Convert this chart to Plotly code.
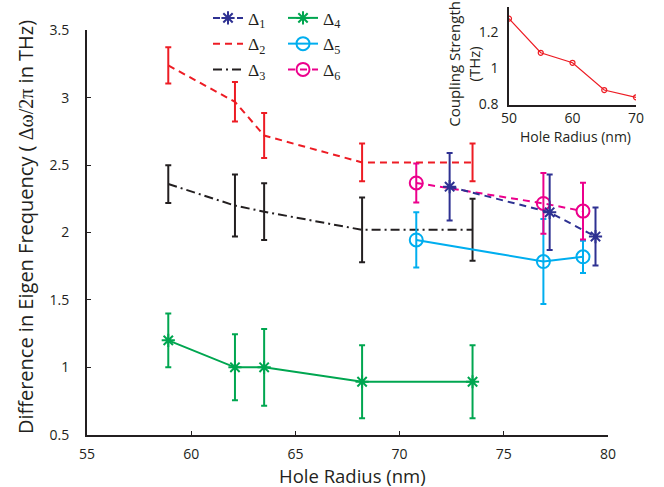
import plotly.graph_objects as go

# ---------------- data ----------------
x_main = [58.9, 62.1, 63.5, 68.2, 73.5]
x_d1 = [72.4, 77.2, 79.4]
x_d56 = [70.8, 76.9, 78.8]

d1 = [2.34, 2.15, 1.97]
e1 = [0.25, 0.28, 0.215]
d2 = [3.24, 2.97, 2.72, 2.52, 2.52]
e2 = [0.135, 0.147, 0.167, 0.14, 0.14]
d3 = [2.36, 2.20, 2.155, 2.02, 2.02]
e3 = [0.14, 0.23, 0.21, 0.24, 0.23]
d4 = [1.20, 1.00, 1.00, 0.893, 0.893]
e4 = [0.20, 0.245, 0.285, 0.27, 0.27]
d5 = [1.945, 1.785, 1.82]
e5 = [0.205, 0.315, 0.12]
d6 = [2.368, 2.216, 2.159]
e6 = [0.145, 0.225, 0.21]

inset_x = [50, 55, 60, 65, 70]
inset_y = [1.273, 1.085, 1.03, 0.88, 0.84]

y_ticks = [0.5, 1, 1.5, 2, 2.5, 3, 3.5]
y_ticktext = ["0.5", "1", "1.5", "2", "2.5", "3", "3.5"]
x_ticks = [55, 60, 65, 70, 75, 80]
inset_xticks = [50, 60, 70]
inset_yticks = [0.8, 1.0, 1.2]
inset_yticktext = ["0.8", "1", "1.2"]

C1, C2, C3 = "#2E3192", "#ED1C24", "#231F20"
C4, C5, C6 = "#00A650", "#00AEEF", "#EC008C"

W, H = 664, 487
SANS = "Open Sans"
SERIF = "Liberation Serif"

fig = go.Figure()


def add(x, y, e, color, dash, symbol, name, legend, msize, rank):
    fig.add_trace(go.Scatter(
        x=x, y=y, name=name, legend=legend, legendgroup=name,
        legendrank=rank,
        mode="lines" if symbol is None else "lines+markers",
        line=dict(color=color, width=2, dash=dash),
        marker=dict(symbol=symbol or "circle", size=msize, color=color,
                    line=dict(color=color, width=2)),
        error_y=dict(type="data", array=e, visible=True,
                     color=color, thickness=2, width=3),
        xaxis="x", yaxis="y",
    ))


add(x_main, d3, e3, C3, "9px,4px,2px,4px", None, "Δ<sub>3</sub>", "legend", 6, 3)
add(x_main, d2, e2, C2, "7px,5px", None, "Δ<sub>2</sub>", "legend", 6, 2)
add(x_main, d4, e4, C4, "solid", "asterisk-open", "Δ<sub>4</sub>", "legend2", 11, 4)
add(x_d56, d5, e5, C5, "solid", "circle-open", "Δ<sub>5</sub>", "legend2", 13, 5)
add(x_d56, d6, e6, C6, "7px,5px", "circle-open", "Δ<sub>6</sub>", "legend2", 13, 6)
add(x_d1, d1, e1, C1, "7px,5px", "asterisk-open", "Δ<sub>1</sub>", "legend", 11, 1)

# inset
fig.add_trace(go.Scatter(
    x=inset_x, y=inset_y, mode="lines+markers", showlegend=False,
    line=dict(color="#ED1C24", width=1.2),
    marker=dict(symbol="circle-open", size=5, color="#ED1C24",
                line=dict(color="#ED1C24", width=1.2)),
    xaxis="x2", yaxis="y2",
))


def px_x(p):
    return p / W


def px_y(p):
    return 1 - p / H


fig.update_layout(
    width=W, height=H,
    margin=dict(l=0, r=0, t=0, b=0),
    paper_bgcolor="white", plot_bgcolor="white",
    font=dict(family=SANS, color=C3, size=14),
    xaxis=dict(
        domain=[px_x(87), px_x(608)], range=[55, 80],
        tickvals=x_ticks, ticks="inside", ticklen=4, tickwidth=1,
        tickcolor=C3, showline=True, linecolor=C3, linewidth=2,
        showgrid=False, zeroline=False, anchor="y",
        tickfont=dict(size=14), ticklabelstandoff=5, automargin=False,
    ),
    yaxis=dict(
        domain=[px_y(434.5), px_y(28.5)], range=[0.5, 3.5],
        tickvals=y_ticks, ticktext=y_ticktext, ticks="inside", ticklen=4,
        tickwidth=1, tickcolor=C3, showline=True, linecolor=C3, linewidth=2,
        showgrid=False, zeroline=False, anchor="x",
        tickfont=dict(size=14), ticklabelstandoff=13, automargin=False,
    ),
    xaxis2=dict(
        domain=[px_x(509), px_x(636)], range=[50, 70],
        tickvals=inset_xticks, ticks="", showline=True, linecolor=C3,
        linewidth=1.5, showgrid=False, zeroline=False, anchor="y2",
        tickfont=dict(size=14), ticklabelstandoff=0, automargin=False,
    ),
    yaxis2=dict(
        domain=[px_y(103), px_y(5)], range=[0.8, 1.337],
        tickvals=inset_yticks, ticktext=inset_yticktext, ticks="",
        showline=True, linecolor=C3, linewidth=1.5, showgrid=False,
        zeroline=False, anchor="x2", tickfont=dict(size=14),
        ticklabelstandoff=6, automargin=False,
    ),
    legend=dict(
        x=px_x(208), y=px_y(-2), xanchor="left", yanchor="top",
        bgcolor="rgba(0,0,0,0)", font=dict(family=SERIF, size=17.5, color=C3),
        traceorder="normal", tracegroupgap=0, itemwidth=30,
    ),
    legend2=dict(
        x=px_x(283), y=px_y(-2), xanchor="left", yanchor="top",
        bgcolor="rgba(0,0,0,0)", font=dict(family=SERIF, size=17.5, color=C3),
        traceorder="normal", tracegroupgap=0, itemwidth=30,
    ),
    showlegend=True,
)

annots = [
    dict(text="Hole Radius (nm)", x=px_x(352), y=px_y(475),
         font=dict(size=18.5)),
    dict(text="Difference in Eigen Frequency ( <span style='font-family:Liberation Serif'>Δω/2π</span> in THz)",
         x=px_x(25), y=px_y(226), textangle=-90, font=dict(size=20)),
    dict(text="Hole Radius (nm)", x=px_x(575), y=px_y(135),
         font=dict(size=14)),
    dict(text="Coupling Strength<br>(THz)", x=px_x(464), y=px_y(62),
         textangle=-90, font=dict(size=15)),
]
for a in annots:
    fig.add_annotation(xref="paper", yref="paper", showarrow=False,
                       xanchor="center", yanchor="middle", **a)

fig.write_html(
    "out.html",
    config={"displayModeBar": False},
    post_script="document.body.style.margin='0';document.body.style.overflow='hidden';",
)
